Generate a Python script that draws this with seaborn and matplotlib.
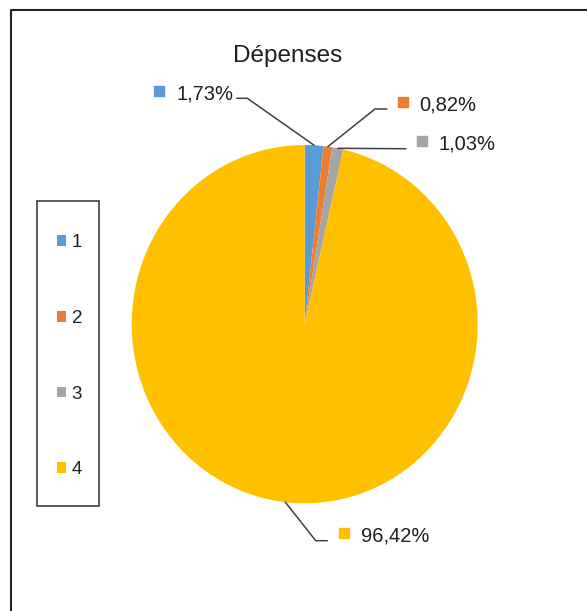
import numpy as np
import matplotlib.pyplot as plt
import matplotlib.patches as mpatches
from matplotlib.lines import Line2D
import seaborn as sns

sns.set_theme(style="white")
plt.rcParams["font.family"] = ["Liberation Sans", "DejaVu Sans"]

# ----- donnees -----
titre = "Dépenses"
categories = ["1", "2", "3", "4"]
parts = [1.73, 0.82, 1.03, 96.42]
couleurs = ["#5B9BD5", "#ED7D31", "#A5A5A5", "#FFC000"]

# ----- mise en page (en pixels de l'image) -----
W, H = 587, 611
cx, cy, rx, ry = 304.7, 324.15, 173, 179.15   # centre et rayons du camembert

def fx(px):
    return px / W

def fy(py):
    return 1 - py / H

# coude et fin des lignes de rappel, carre (gauche, haut), texte (gauche, ligne de base)
coudes = [(247.3, 98.3), (375, 109), (400, 148.7), (315.7, 540.7)]
fins = [(236.7, 98.3), (386.7, 109), (406, 148.7), (327.3, 540.7)]
carres = [(154, 86), (397.5, 97), (416.7, 136), (339.3, 528)]
textes = [(177, 100), (419, 110.7), (438, 149.3), (360.7, 541.7)]

fig = plt.figure(figsize=(W / 100, H / 100), dpi=100)
fig.patch.set_facecolor("white")

ax = fig.add_axes([fx(cx - rx), fy(cy + ry), 2 * rx / W, 2 * ry / H])
wedges, _ = ax.pie(parts, colors=couleurs, startangle=90, counterclock=False,
                   wedgeprops=dict(linewidth=0))
ax.set_aspect("auto")
ax.set_xlim(-1, 1)
ax.set_ylim(-1, 1)

# etiquettes de donnees avec lignes de rappel (depuis le milieu de chaque part)
for w, v, c, coude, fin, sq, tx in zip(wedges, parts, couleurs, coudes, fins, carres, textes):
    theta = np.deg2rad((w.theta1 + w.theta2) / 2)
    xs = [np.cos(theta), (coude[0] - cx) / rx, (fin[0] - cx) / rx]
    ys = [np.sin(theta), (cy - coude[1]) / ry, (cy - fin[1]) / ry]
    ax.plot(xs, ys, color="#404040", lw=1.1, clip_on=False)
    fig.add_artist(mpatches.Rectangle((fx(sq[0]), fy(sq[1] + 10)), 10 / W, 10 / H,
                                      color=c, transform=fig.transFigure))
    fig.text(fx(tx[0]), fy(tx[1]), f"{v:.2f}%".replace(".", ","),
             ha="left", va="baseline", fontsize=14.5, color="#1f1f1f")

fig.text(fx(287.5), fy(62), titre, ha="center", va="baseline",
         fontsize=17.5, color="#1f1f1f")

# legende
fig.legend(wedges, categories, loc="center left",
           bbox_to_anchor=(fx(56.7), fy(356.2)), frameon=False,
           fontsize=13.5, handlelength=0.5, handleheight=0.5,
           handletextpad=0.3, labelspacing=3.13, borderpad=0, borderaxespad=0,
           labelcolor="#1f1f1f")
fig.add_artist(mpatches.Rectangle((fx(37.3), fy(506)), 62 / W, 305 / H,
                                  fill=False, edgecolor="#404040", lw=1.2,
                                  transform=fig.transFigure))

# cadre du graphique (coupe a droite et en bas)
fig.add_artist(Line2D([fx(10.5), fx(10.5), fx(W)], [fy(H), fy(9.5), fy(9.5)],
                      color="#222222", lw=1.5, transform=fig.transFigure))

fig.savefig("out.png", dpi=100)
